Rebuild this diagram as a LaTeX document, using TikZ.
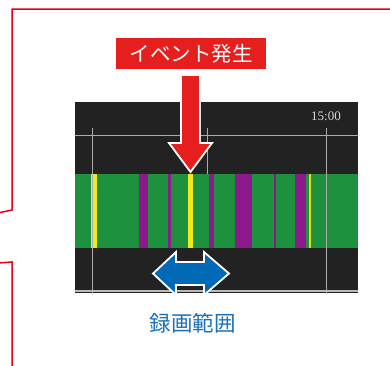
\documentclass[tikz,border=0pt]{standalone}
\usepackage{fontspec}
\newfontfamily\jpfont{Noto Sans CJK JP}
\newfontfamily\timefont{Liberation Serif}
\begin{document}
\begin{tikzpicture}[x=1pt,y=-1pt,
  grid/.style={draw=gray!65,line width=1pt},
  redline/.style={draw={rgb,255:red,230;green,0;blue,18},line width=1.5pt}]
\definecolor{evred}{RGB}{230,30,30}
\definecolor{panel}{RGB}{34,34,34}
\definecolor{bandgreen}{RGB}{30,145,62}
\definecolor{purp}{RGB}{140,26,140}
\definecolor{yel}{RGB}{240,235,30}
\definecolor{arrblue}{RGB}{0,106,182}
\definecolor{txtblue}{RGB}{24,112,186}
\useasboundingbox (0,0) rectangle (390,365);
% red outline
\draw[redline] (392,9) -- (12,9) -- (12,210) -- (-2,213);
\draw[redline] (-2,263) -- (12,262) -- (12,367);
% panel
\fill[panel] (75,102) rectangle (358,293);
\fill[bandgreen] (75,174) rectangle (358,248);
% stripes
\fill[yel] (91,174) rectangle (97,248);
\fill[yel] (188,174) rectangle (193,248);
\fill[yel!80!orange] (309,174) rectangle (311,248);
\fill[purp] (139,174) rectangle (148,248);
\fill[purp] (168,174) rectangle (171,248);
\fill[purp] (209,174) rectangle (214,248);
\fill[purp] (235,174) rectangle (252,248);
\fill[purp] (274,174) rectangle (276,248);
\fill[purp] (295,174) rectangle (306,248);
% grid lines
\draw[grid] (75,135) -- (358,135);
\draw[grid] (92,128) -- (92,293);
\draw[grid] (207,128) -- (207,174);
\draw[grid] (326,128) -- (326,293);
\draw[draw=gray!55,line width=1.6pt] (75,291) -- (358,291);
\node[text=gray!30,font=\timefont\fontsize{13}{13}\selectfont] (t15) at (326,116) {15:00};
% event label
\node[fill=evred,text=white,inner sep=0pt,minimum width=150pt,minimum height=31pt,font=\jpfont\fontsize{20.5}{20.5}\selectfont] (ev) at (191,53.5) {イベント発生};
% red arrow
\draw[draw=white,line width=1.8pt,fill=evred,line join=miter] (181,75) -- (200,75) -- (200,143) -- (212,143) -- (190.5,172) -- (169,143) -- (181,143) -- cycle;
% blue double arrow
\draw[draw=white,line width=1.8pt,fill=arrblue,line join=miter] (153,273.5) -- (176,252) -- (176,262) -- (204,262) -- (204,252) -- (229,273.5) -- (204,295) -- (204,285) -- (176,285) -- (176,295) -- cycle;
\node[text=txtblue,font=\jpfont\fontsize{21.5}{21.5}\selectfont] (rec) at (192.5,323) {録画範囲};
\end{tikzpicture}
\end{document}
